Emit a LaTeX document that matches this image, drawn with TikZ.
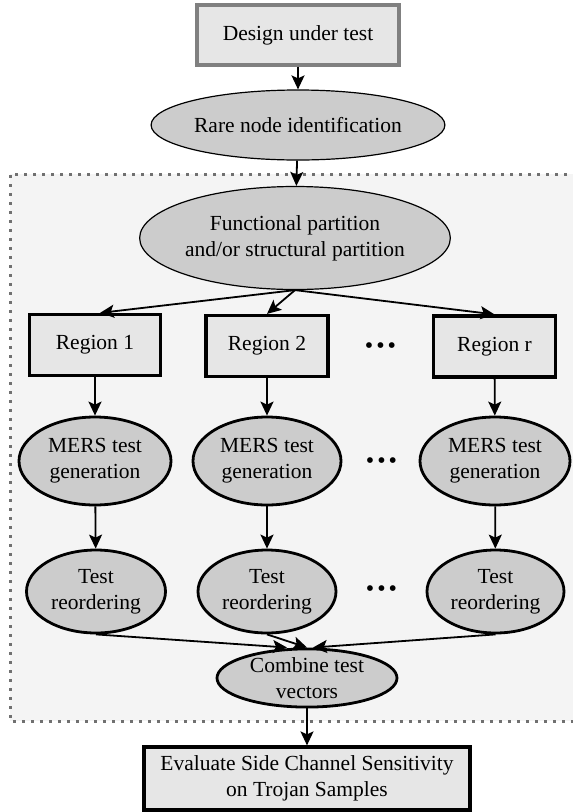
\documentclass[tikz,border=0pt]{standalone}
\usepackage{fontspec}
\setmainfont{Liberation Serif}
\usetikzlibrary{shapes.geometric,arrows.meta}

\definecolor{boxfill}{HTML}{E6E6E6}
\definecolor{ovalfill}{HTML}{CCCCCC}
\definecolor{areafill}{HTML}{F4F4F4}
\definecolor{dotgray}{HTML}{707070}

\newcommand{\threedots}{\fontsize{24}{24}\selectfont\textbullet\hspace{3pt}\textbullet\hspace{3pt}\textbullet}

\begin{document}
\begin{tikzpicture}[x=1pt,y=-1pt,
    font=\fontsize{21.5}{26}\selectfont,
    every node/.style={align=center,inner sep=0pt},
    box/.style={draw,line width=3.2pt,fill=boxfill,rectangle},
    oval/.style={draw,line width=2.8pt,fill=ovalfill,ellipse},
    thinoval/.style={draw,line width=1.2pt,fill=ovalfill,ellipse},
    arr/.style={-{Stealth[length=14pt,width=13pt,inset=3pt]},line width=1.8pt}]
			\useasboundingbox (0,0) rectangle (573,812);

			% shaded area
			\fill[areafill] (10,174) rectangle (576,721);
			\draw[dotgray,line width=3pt,dash pattern=on 3pt off 6pt]
				(576,174) -- (10,174) -- (10,721) -- (576,721);

			\node[box,draw=gray,minimum width=202pt,minimum height=60pt] (design) at (298,35) {Design under test};
			\node[thinoval,minimum width=250pt,minimum height=70pt] (rare) at (298,125) {Rare node identification};
			\node[thinoval,minimum width=280pt,minimum height=103pt] (part) at (295,238) {Functional partition\\and/or structural partition};

			\node[box,minimum width=131pt,minimum height=61pt] (reg1) at (95,345) {Region 1};
			\node[box,minimum width=122pt,minimum height=61pt] (reg2) at (267,346) {Region 2};
			\node[box,minimum width=122pt,minimum height=61pt] (regr) at (494.5,346.5) {Region r};

			\node[oval,minimum width=152pt,minimum height=88pt] (mers1) at (95,461) {MERS test\\generation};
			\node[oval,minimum width=148pt,minimum height=88pt] (mers2) at (267,461) {MERS test\\generation};
			\node[oval,minimum width=150pt,minimum height=88pt] (mersr) at (495,461) {MERS test\\generation};

			\node[oval,minimum width=139pt,minimum height=83pt] (reord1) at (96,591.5) {Test\\reordering};
			\node[oval,minimum width=138pt,minimum height=83pt] (reord2) at (267,591.5) {Test\\reordering};
			\node[oval,minimum width=137pt,minimum height=83pt] (reordr) at (495.5,591.5) {Test\\reordering};

			\node (dots1) at (380.5,348) {\threedots};
			\node (dots2) at (381.5,463) {\threedots};
			\node (dots3) at (381.5,591) {\threedots};

			\node[oval,minimum width=180pt,minimum height=56pt] (comb) at (307,678) {Combine test\\vectors};
			\node[box,minimum width=326pt,minimum height=63pt] (eval) at (307,778.5) {Evaluate Side Channel Sensitivity\\on Trojan Samples};

			\draw[arr] (design) -- (rare);
			\draw[arr] (rare) -- (part);
			\draw[arr] (part.south) -- ([xshift=5pt]reg1.north);
			\draw[arr] (part.south) -- (reg2.north);
			\draw[arr] (part.south) -- (regr.north);
			\draw[arr] (reg1) -- (mers1);
			\draw[arr] (reg2) -- (mers2);
			\draw[arr] (regr) -- (mersr);
			\draw[arr] (mers1) -- (reord1);
			\draw[arr] (mers2) -- (reord2);
			\draw[arr] (mersr) -- (reordr);
			\draw[arr] (reord1.south) -- ([xshift=-20pt]comb.north);
			\draw[arr] (reord2.south) -- (comb.north);
			\draw[arr] (reordr.south) -- ([xshift=6pt]comb.north);
			\draw[arr] (comb) -- (eval);
		\end{tikzpicture}
\end{document}
